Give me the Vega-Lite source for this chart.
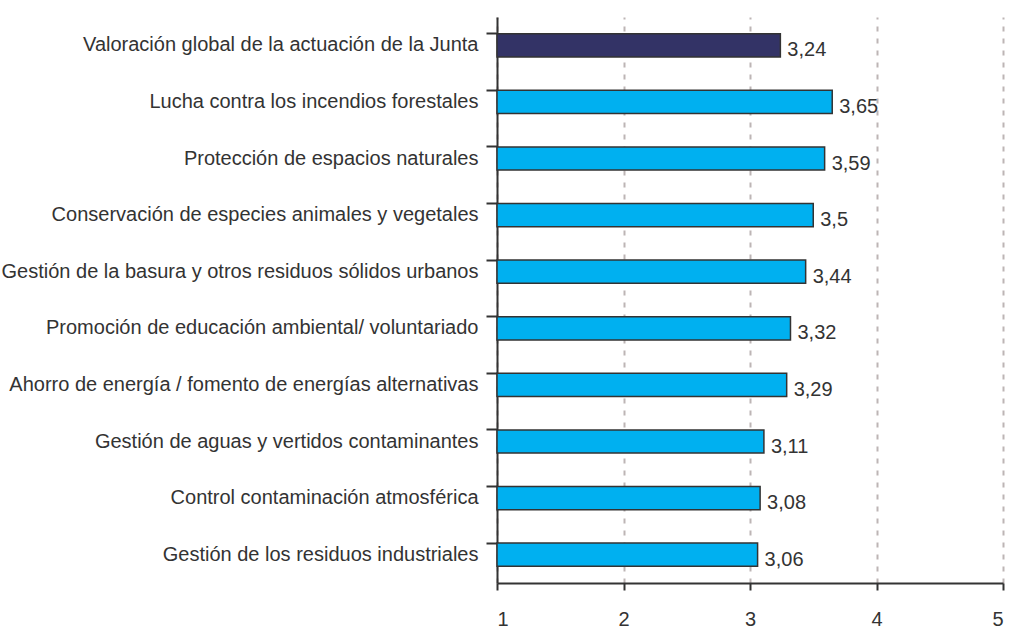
{
  "$schema": "https://vega.github.io/schema/vega-lite/v6.json",
  "width": 506,
  "height": 566,
  "autosize": {"type": "none"},
  "padding": {"left": 497, "top": 17, "right": 8, "bottom": 45},
  "background": "white",
  "config": {
    "view": {"stroke": null},
    "font": "Liberation Sans",
    "locale": {"number": {"decimal": ",", "thousands": ".", "grouping": [3], "currency": ["", " €"]}}
  },
  "data": {
    "values": [
      {"item": "Valoración global de la actuación de la Junta", "valor": 3.24, "grupo": "global"},
      {"item": "Lucha contra los incendios forestales", "valor": 3.65, "grupo": "area"},
      {"item": "Protección de espacios naturales", "valor": 3.59, "grupo": "area"},
      {"item": "Conservación de especies animales y vegetales", "valor": 3.5, "grupo": "area"},
      {"item": "Gestión de la basura y otros residuos sólidos urbanos", "valor": 3.44, "grupo": "area"},
      {"item": "Promoción de  educación ambiental/  voluntariado", "valor": 3.32, "grupo": "area"},
      {"item": "Ahorro de energía / fomento de energías alternativas  ", "valor": 3.29, "grupo": "area"},
      {"item": "Gestión de aguas y vertidos contaminantes", "valor": 3.11, "grupo": "area"},
      {"item": "Control contaminación atmosférica", "valor": 3.08, "grupo": "area"},
      {"item": "Gestión de los residuos industriales", "valor": 3.06, "grupo": "area"}
    ]
  },
  "encoding": {
    "y": {
      "field": "item", "type": "nominal", "sort": null, "title": null,
      "scale": {"paddingInner": 0.59, "paddingOuter": 0.295},
      "axis": {
        "bandPosition": 0, "tickSize": 11, "tickWidth": 2, "tickColor": "#333333",
        "domainColor": "#333333", "domainWidth": 2,
        "labelFontSize": 20, "labelColor": "#333333", "labelPadding": 8, "labelLimit": 520
      }
    },
    "x": {
      "field": "valor", "type": "quantitative", "title": null,
      "scale": {"domain": [1, 5], "zero": false, "nice": false},
      "axis": {
        "values": [1, 2, 3, 4, 5], "format": "d", "tickSize": 7, "tickWidth": 2, "tickColor": "#333333",
        "domainColor": "#333333", "domainWidth": 2,
        "labelFontSize": 20, "labelColor": "#333333", "labelPadding": 19,
        "grid": true, "gridColor": "#BDB5B5", "gridDash": [5, 7], "gridWidth": 2
      }
    }
  },
  "layer": [
    {
      "mark": {"type": "bar", "stroke": "#333333", "strokeWidth": 1.5},
      "encoding": {
        "x2": {"datum": 1},
        "color": {"field": "grupo", "type": "nominal", "legend": null,
          "scale": {"domain": ["global", "area"], "range": ["#333366", "#00B0F0"]}}
      }
    },
    {
      "mark": {"type": "text", "align": "left", "baseline": "middle", "dx": 7, "dy": 5, "fontSize": 20, "color": "#333333"},
      "encoding": {"text": {"field": "valor", "type": "quantitative", "format": "~g"}}
    }
  ]
}
